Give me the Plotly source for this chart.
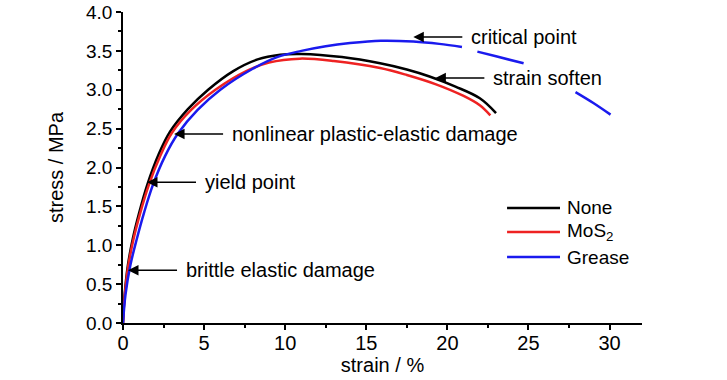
import plotly.graph_objects as go

# ---- data ----
none_strain = [0, 0.1, 0.3, 0.6, 1.0, 1.5, 2.2, 2.9, 4.0, 5.25, 6.8, 8.3, 9.7, 11.0, 13.5, 15.85, 17.5, 18.9, 20.5, 22.0, 23.0]
none_stress = [0, 0.36, 0.74, 1.08, 1.42, 1.78, 2.17, 2.46, 2.75, 3.0, 3.24, 3.39, 3.45, 3.46, 3.42, 3.34, 3.26, 3.17, 3.04, 2.89, 2.70]

mos2_strain = [0, 0.11, 0.33, 0.65, 1.07, 1.6, 2.3, 3.0, 4.2, 5.7, 7.6, 9.0, 10.9, 13.0, 15.85, 17.5, 19.3, 21.0, 22.0, 22.65]
mos2_stress = [0, 0.36, 0.74, 1.08, 1.42, 1.78, 2.15, 2.44, 2.74, 3.0, 3.24, 3.35, 3.40, 3.37, 3.28, 3.19, 3.07, 2.92, 2.80, 2.67]

grease_strain = [0, 0.15, 0.45, 0.85, 1.3, 1.85, 2.6, 3.4, 4.6, 6.0, 8.0, 9.5, 11.0, 12.5, 14.0, 15.9, 17.9, 19.5, 20.9,
                 None, 21.85, 23.0, 24.7, None, 27.9, 29.0, 30.06]
grease_stress = [0, 0.36, 0.74, 1.08, 1.42, 1.78, 2.15, 2.44, 2.74, 3.0, 3.27, 3.42, 3.50, 3.56, 3.60, 3.63, 3.62, 3.59, 3.55,
                 None, 3.49, 3.43, 3.34, None, 2.97, 2.83, 2.68]

series_names = ["None", "MoS<sub>2</sub>", "Grease"]
series_colors = ["#000000", "#ee2222", "#1a1aee"]

# annotation labels: text and arrow tip (strain, stress)
ann_texts = ["critical point", "strain soften", "nonlinear plastic-elastic damage", "yield point", "brittle elastic damage"]
ann_tip_x = [17.9, 19.26, 3.15, 1.48, 0.31]
ann_tip_y = [3.68, 3.15, 2.43, 1.81, 0.68]

x_ticks = [0, 5, 10, 15, 20, 25, 30]
y_ticks = [0.0, 0.5, 1.0, 1.5, 2.0, 2.5, 3.0, 3.5, 4.0]

FONT = "Liberation Sans, Arial, sans-serif"

fig = go.Figure()
for xs, ys, nm, col in [(none_strain, none_stress, series_names[0], series_colors[0]),
                        (mos2_strain, mos2_stress, series_names[1], series_colors[1]),
                        (grease_strain, grease_stress, series_names[2], series_colors[2])]:
    fig.add_trace(go.Scatter(x=xs, y=ys, mode="lines", name=nm, showlegend=False,
                             line=dict(color=col, width=2.5, shape="spline", smoothing=1.0),
                             connectgaps=False))

annotations = []
for t, tx, ty in zip(ann_texts, ann_tip_x, ann_tip_y):
    annotations.append(dict(x=tx, y=ty, xref="x", yref="y", text=t, showarrow=True,
                            arrowhead=2, arrowsize=1.4, arrowwidth=1.5, arrowcolor="black",
                            ax=56, ay=0, axref="pixel", ayref="pixel",
                            xanchor="left", yanchor="middle", startstandoff=7,
                            font=dict(family=FONT, size=20, color="black")))

# manual legend (paper coordinates)
shapes = []
leg_y = [0.370, 0.293, 0.212]
for nm, col, yy in zip(series_names, series_colors, leg_y):
    shapes.append(dict(type="line", xref="paper", yref="paper", x0=0.740, x1=0.842, y0=yy, y1=yy,
                       line=dict(color=col, width=2.5)))
    annotations.append(dict(x=0.852, y=yy, xref="paper", yref="paper", text=nm, showarrow=False,
                            xanchor="left", yanchor="middle",
                            font=dict(family=FONT, size=19, color="black")))

fig.update_layout(
    width=727, height=380,
    margin=dict(l=123, r=85, t=12, b=57),
    paper_bgcolor="white", plot_bgcolor="white",
    font=dict(family=FONT, size=19, color="black"),
    annotations=annotations, shapes=shapes,
    showlegend=False,
)
fig.update_xaxes(range=[0, 32], tickvals=x_ticks, ticktext=[str(v) for v in x_ticks],
                 ticks="outside", ticklen=5, tickwidth=1.5, tickcolor="black",
                 minor=dict(dtick=2.5, ticks="outside", ticklen=3, tickwidth=1.5, tickcolor="black"),
                 showline=True, linecolor="black", linewidth=1.5, showgrid=False, zeroline=False,
                 automargin=False, ticklabelstandoff=-4,
                 tickfont=dict(family=FONT, size=20, color="black"),
                 title=dict(text="strain / %", font=dict(family=FONT, size=20, color="black"), standoff=0))
fig.update_yaxes(range=[0, 4], tickvals=y_ticks, ticktext=[f"{v:.1f}" for v in y_ticks],
                 ticks="outside", ticklen=5, tickwidth=1.5, tickcolor="black",
                 minor=dict(dtick=0.25, ticks="outside", ticklen=3, tickwidth=1.5, tickcolor="black"),
                 showline=True, linecolor="black", linewidth=1.5, showgrid=False, zeroline=False,
                 automargin=False,
                 tickfont=dict(family=FONT, size=19, color="black"),
                 title=dict(text="stress / MPa", font=dict(family=FONT, size=20, color="black"), standoff=17))

fig.write_html("out.html", config={"displayModeBar": False},
               post_script="document.body.style.margin='0';")
